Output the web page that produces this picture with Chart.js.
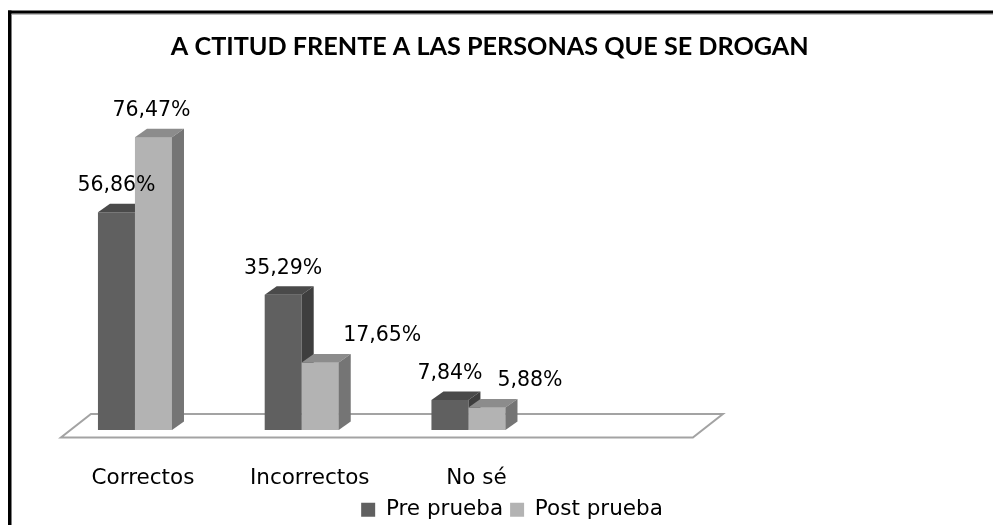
<!DOCTYPE html>
<html><head><meta charset="utf-8">
<script src="https://cdn.jsdelivr.net/npm/chart.js@4.4.1/dist/chart.umd.min.js"></script>
<style>html,body{margin:0;padding:0;background:#fff}#wrap{width:993px;height:525px;position:relative}</style>
</head><body><div id="wrap"><canvas id="c"></canvas></div>
<script>
const titleText = 'A CTITUD FRENTE A LAS PERSONAS QUE SE DROGAN';
const categories = ['Correctos', 'Incorrectos', 'No sé'];
const seriesNames = ['Pre prueba', 'Post prueba'];
const prePrueba = [56.86, 35.29, 7.84];
const postPrueba = [76.47, 17.65, 5.88];
const yMin = 0, yMax = 80;

const fmt = v => v.toFixed(2).replace('.', ',') + '%';
const toPoints = arr => arr.map((v, i) => ({x: i, y: v}));
const FONT = 'DejaVu Sans';

const framePlugin = {
  id: 'frame',
  beforeDraw(chart) {
    const {ctx, width, height} = chart;
    ctx.save();
    ctx.fillStyle = '#fff';
    ctx.fillRect(0, 0, width, height);
    ctx.fillStyle = '#000';
    ctx.fillRect(8, 10.5, width - 8, 3.2);
    ctx.fillRect(8, 10.5, 3.5, height - 10.5);
    ctx.fillStyle = '#a0a0a0';
    ctx.fillRect(11.5, 13.7, width - 11.5, 1);
    ctx.restore();
  }
};

const floorPlugin = {
  id: 'floor',
  beforeDatasetsDraw(chart, args, o) {
    const {ctx} = chart;
    const xs = chart.scales.x, ys = chart.scales.y;
    const base = ys.getPixelForValue(0);
    const fl = xs.getPixelForValue(o.from), fr = xs.getPixelForValue(o.to);
    const fy = base + o.front, by = base - o.back;
    ctx.save();
    ctx.beginPath();
    ctx.moveTo(fl, fy); ctx.lineTo(fr, fy); ctx.lineTo(fr + o.dx, by); ctx.lineTo(fl + o.dx, by); ctx.closePath();
    ctx.fillStyle = '#fff'; ctx.fill();
    ctx.strokeStyle = o.color; ctx.lineWidth = o.lineWidth; ctx.stroke();
    ctx.restore();
  }
};

const bar3dPlugin = {
  id: 'bar3d',
  afterDatasetsDraw(chart, args, o) {
    const {ctx} = chart;
    ctx.save();
    chart.data.datasets.forEach((ds, di) => {
      const meta = chart.getDatasetMeta(di);
      meta.data.forEach(el => {
        if (di > 0) el.draw(ctx);
        const {x, y, base, width} = el.getProps(['x', 'y', 'base', 'width'], true);
        const l = x - width / 2, r = x + width / 2;
        ctx.fillStyle = o.top[di];
        ctx.beginPath(); ctx.moveTo(l, y); ctx.lineTo(l + o.dx, y - o.dy); ctx.lineTo(r + o.dx, y - o.dy); ctx.lineTo(r, y); ctx.closePath(); ctx.fill();
        ctx.fillStyle = o.side[di];
        ctx.beginPath(); ctx.moveTo(r, y); ctx.lineTo(r + o.dx, y - o.dy); ctx.lineTo(r + o.dx, base - o.dy); ctx.lineTo(r, base); ctx.closePath(); ctx.fill();
      });
    });
    // value labels
    ctx.fillStyle = '#000';
    ctx.font = o.labelSize + 'px "' + FONT + '"';
    ctx.textAlign = 'center';
    ctx.textBaseline = 'middle';
    chart.data.datasets.forEach((ds, di) => {
      const meta = chart.getDatasetMeta(di);
      meta.data.forEach((el, i) => {
        const off = o.labelShift[di][i];
        ctx.fillText(fmt(ds.data[i].y), el.x + off, el.y - o.labelRise);
      });
    });
    ctx.restore();
  }
};

new Chart(document.getElementById('c'), {
  type: 'bar',
  data: {
    datasets: [
      {label: seriesNames[0], data: toPoints(prePrueba), backgroundColor: '#606060', borderWidth: 0},
      {label: seriesNames[1], data: toPoints(postPrueba), backgroundColor: '#b3b3b3', borderWidth: 0}
    ]
  },
  options: {
    responsive: true,
    maintainAspectRatio: false,
    devicePixelRatio: 1,
    animation: false,
    events: [],
    categoryPercentage: 0.444,
    barPercentage: 1,
    layout: {padding: {left: 31, right: 0, top: 0, bottom: -5.5}},
    scales: {
      x: {
        type: 'linear', min: -0.5, max: 4.756, offset: false,
        afterBuildTicks: s => { s.ticks = categories.map((_, i) => ({value: i})); },
        afterFit: s => { s.height = 62; },
        ticks: {
          callback: v => categories[v] ?? '',
          font: {family: FONT, size: 21.5, lineHeight: 1.2},
          color: '#000', padding: 36, labelOffset: 8, maxRotation: 0, autoSkip: false
        },
        grid: {display: false, drawTicks: false},
        border: {display: false}
      },
      y: {
        min: yMin, max: yMax,
        ticks: {display: false},
        grid: {display: false, drawTicks: false},
        border: {display: false},
        afterFit: s => { s.width = 20.6; }
      },
      yR: {
        position: 'right', min: 0, max: 1,
        ticks: {display: false},
        grid: {display: false, drawTicks: false},
        border: {display: false},
        afterFit: s => { s.width = 65; }
      }
    },
    plugins: {
      title: {
        display: true, text: titleText, fullSize: false, color: '#000',
        font: {family: 'Lato', weight: 'bold', size: 25.2, lineHeight: 1.2},
        padding: {top: 32, bottom: 61.4}
      },
      legend: {
        position: 'bottom',
        labels: {
          font: {family: FONT, size: 21.5}, color: '#000',
          boxWidth: 14, boxHeight: 14, padding: 7
        }
      },
      tooltip: {enabled: false},
      floor: {from: -0.444, to: 3.346, front: 7.5, back: 16, dx: 30, color: '#a3a3a3', lineWidth: 2},
      bar3d: {
        dx: 12, dy: 8.5,
        top: ['#4a4a4a', '#8c8c8c'], side: ['#3e3e3e', '#757575'],
        labelSize: 20.5, labelRise: 26.5,
        labelShift: [[0, 0, 0], [-2, 62, 43]]
      }
    }
  },
  plugins: [framePlugin, floorPlugin, bar3dPlugin]
});
</script></body></html>
